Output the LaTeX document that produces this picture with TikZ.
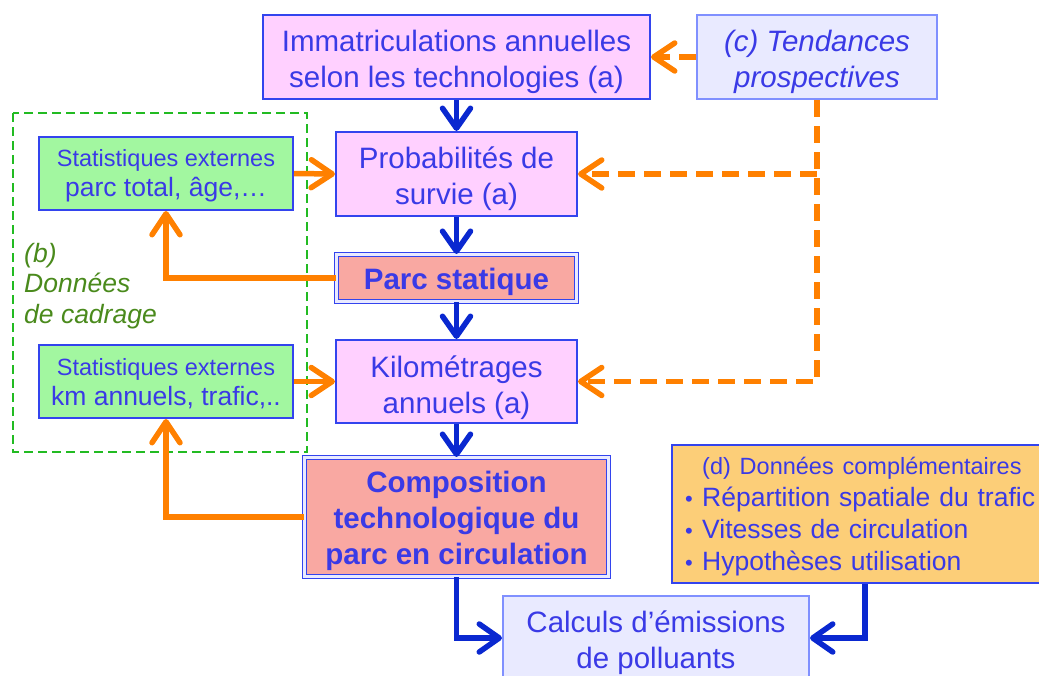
\documentclass[tikz,border=0pt]{standalone}
\usepackage{fontspec}
\setmainfont{Liberation Sans}
\usetikzlibrary{arrows.meta}
\definecolor{txtblue}{HTML}{3A3AE6}
\definecolor{bordblue}{HTML}{3344EE}
\definecolor{lightbord}{HTML}{8090FF}
\definecolor{pinkfill}{HTML}{FFD0FF}
\definecolor{greenfill}{HTML}{A2F7A0}
\definecolor{salmonfill}{HTML}{F9A8A2}
\definecolor{lavfill}{HTML}{E9EAFF}
\definecolor{orfill}{HTML}{FCCE78}
\definecolor{arrblue}{HTML}{0A28D0}
\definecolor{arrorange}{HTML}{FF8000}
\definecolor{dashgreen}{HTML}{22BB22}
\definecolor{olivetxt}{HTML}{4A8A1C}
\tikzset{
  box/.style={draw=bordblue, line width=2pt, inner sep=0pt},
  pinkbox/.style={box, fill=pinkfill},
  dblbox/.style={box, fill=salmonfill, line width=1.1pt, double=lavfill, double distance=2.6pt},
  statbox/.style={box, fill=greenfill},
  lavbox/.style={box, draw=lightbord, fill=lavfill},
  txt/.style={inner sep=0pt, align=center, text=txtblue, font=\fontsize{29.5}{36}\selectfont},
  boldtxt/.style={txt, font=\fontsize{29.5}{36}\selectfont\bfseries},
  stattxt/.style={txt, font=\fontsize{23.5}{30}\selectfont},
  bluearrow/.style={draw=arrblue, line width=5.5pt, -{Straight Barb[length=20pt,width=28pt,round]}},
  orarrow/.style={draw=arrorange, line width=5.5pt, -{Straight Barb[length=21pt,width=28pt,round]}},
  ordash/.style={orarrow, dash pattern=on 17pt off 9pt},
}
\begin{document}
\begin{tikzpicture}[x=1pt,y=-1pt]
\useasboundingbox (0,0) rectangle (1039,675);
\clip (0,0) rectangle (1039,675);

% green dashed frame
\draw[dashgreen, line width=2.8pt, dash pattern=on 9pt off 5pt] (13,113) rectangle (307,452);
\node[anchor=north west, align=left, text=olivetxt, inner sep=0pt,
  font=\fontsize{26.5}{30.5}\selectfont\itshape] (lblb) at (24,243) {(b)\\Données\\de cadrage};

% boxes
\node[pinkbox, minimum width=387pt, minimum height=84pt] (imm) at (456.5,57) {};
\node[lavbox, minimum width=240pt, minimum height=84pt] (tend) at (817,57) {};
\node[pinkbox, minimum width=241pt, minimum height=84pt] (prob) at (456.5,174) {};
\node[dblbox, minimum width=240pt, minimum height=47pt] (parc) at (456.5,278) {};
\node[pinkbox, minimum width=241pt, minimum height=83pt] (kilo) at (456.5,381.5) {};
\node[dblbox, minimum width=304pt, minimum height=119pt] (comp) at (456.5,517) {};
\node[lavbox, minimum width=306pt, minimum height=84pt] (calc) at (656,638) {};
\node[statbox, minimum width=254pt, minimum height=73pt] (st1) at (166,173.5) {};
\node[statbox, minimum width=254pt, minimum height=73pt] (st2) at (166,381.5) {};
\node[box, fill=orfill, anchor=north west, minimum width=380pt, minimum height=138pt] (dat) at (671,444) {};

% texts
\node[txt] (immt) at ([yshift=-5pt]imm.center) {Immatriculations annuelles\\selon les technologies (a)};
\node[txt, font=\fontsize{29.5}{36}\selectfont\itshape] (tendt) at ([yshift=-5pt]tend.center) {(c) Tendances\\prospectives};
\node[txt] (probt) at ([yshift=-5pt]prob.center) {Probabilités de\\survie (a)};
\node[boldtxt] (parct) at ([yshift=-4pt]parc.center) {Parc statique};
\node[txt] (kilot) at ([yshift=-6pt]kilo.center) {Kilométrages\\annuels (a)};
\node[boldtxt] (compt) at ([yshift=-4pt]comp.center) {Composition\\technologique du\\parc en circulation};
\node[txt] (calct) at ([yshift=-5pt]calc.center) {Calculs d’émissions\\de polluants};
\node[stattxt] (st1t) at ([yshift=-2pt]st1.center) {Statistiques externes\\{\fontsize{26.5}{30}\selectfont parc total, âge,…}};
\node[stattxt] (st2t) at ([yshift=-2pt]st2.center) {Statistiques externes\\{\fontsize{26.5}{30}\selectfont km annuels, trafic,..}};
\node[txt, anchor=west, align=left, text width=352pt, font=\fontsize{26.5}{32}\selectfont] (datt) at ([xshift=14pt,yshift=-3pt]dat.west)
  {\hspace*{17pt}{\fontsize{23.5}{28}\selectfont (d) Données complémentaires}\\
   \makebox[17pt][l]{\fontsize{22}{22}\selectfont\textbullet}Répartition spatiale du trafic\\
   \makebox[17pt][l]{\fontsize{22}{22}\selectfont\textbullet}Vitesses de circulation\\
   \makebox[17pt][l]{\fontsize{22}{22}\selectfont\textbullet}Hypothèses utilisation};

% blue arrows
\draw[bluearrow] (imm.south) -- (prob.north);
\draw[bluearrow] (prob.south) -- (parc.north);
\draw[bluearrow] (parc.south) -- (kilo.north);
\draw[bluearrow] (kilo.south) -- (comp.north);
\draw[bluearrow] (comp.south) |- (calc.west);
\draw[bluearrow] ([xshift=3pt]dat.south) |- (calc.east);

% orange arrows
\draw[ordash] (tend.west) -- (imm.east);
\draw[ordash] (tend.south) |- (kilo.east);
\coordinate (branch) at (tend.south |- prob.east);
\draw[ordash] (branch) -- (prob.east);
\draw[orarrow] (st1.east) -- (prob.west);
\draw[orarrow] (st2.east) -- (kilo.west);
\draw[orarrow] (parc.west) -| (st1.south);
\draw[orarrow] (comp.west) -| (st2.south);
\end{tikzpicture}
\end{document}
